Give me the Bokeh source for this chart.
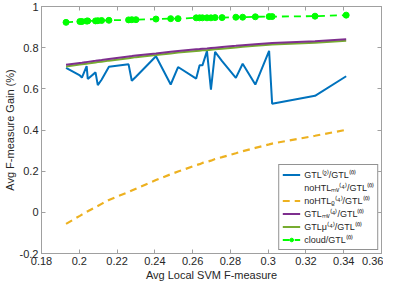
from bokeh.plotting import figure
from bokeh.models import (LinearAxis, Legend, LegendItem, Range1d, FixedTicker,
                          NumeralTickFormatter)
from bokeh.embed import file_html
from bokeh.resources import INLINE

# ---- data ----
x_svm = [0.1930, 0.2003, 0.2014, 0.2039, 0.2045, 0.2086, 0.2098, 0.2118, 0.2157,
         0.2261, 0.2278, 0.2300, 0.2406, 0.2484, 0.2523, 0.2619, 0.2637, 0.2652,
         0.2676, 0.2697, 0.2719, 0.2756, 0.2829, 0.2865, 0.2932, 0.3005, 0.3021,
         0.3248, 0.3413]
gtl2 = [0.702, 0.665, 0.655, 0.710, 0.648, 0.680, 0.618, 0.644, 0.707,
        0.719, 0.639, 0.659, 0.758, 0.621, 0.706, 0.650, 0.714, 0.714,
        0.783, 0.596, 0.780, 0.735, 0.653, 0.722, 0.621, 0.785, 0.528,
        0.566, 0.661]
x_nohtl_mv = []  # series not visible inside the plotted range
nohtl_mv = []
nohtl_rho = [-0.056, -0.017, -0.011, 0.002, 0.005, 0.025, 0.031, 0.041, 0.060,
             0.099, 0.106, 0.115, 0.157, 0.185, 0.198, 0.229, 0.234, 0.240,
             0.245, 0.251, 0.259, 0.268, 0.287, 0.297, 0.313, 0.330, 0.334,
             0.372, 0.401]
gtl4_mv = [0.717, 0.726, 0.727, 0.730, 0.731, 0.736, 0.738, 0.740, 0.745,
           0.757, 0.759, 0.762, 0.772, 0.780, 0.784, 0.792, 0.793, 0.795,
           0.796, 0.798, 0.800, 0.803, 0.809, 0.812, 0.817, 0.822, 0.823,
           0.831, 0.841]
gtl4_mu = [0.709, 0.718, 0.719, 0.722, 0.723, 0.728, 0.730, 0.732, 0.737,
           0.749, 0.751, 0.754, 0.764, 0.772, 0.776, 0.784, 0.785, 0.787,
           0.788, 0.790, 0.792, 0.795, 0.801, 0.804, 0.809, 0.814, 0.815,
           0.824, 0.834]
cloud = [0.923, 0.927, 0.927, 0.929, 0.930, 0.930, 0.931, 0.932, 0.933,
         0.935, 0.936, 0.936, 0.939, 0.941, 0.941, 0.945, 0.945, 0.945,
         0.945, 0.945, 0.946, 0.946, 0.948, 0.948, 0.950, 0.951, 0.951,
         0.953, 0.958]

x_ticks = [0.18, 0.20, 0.22, 0.24, 0.26, 0.28, 0.30, 0.32, 0.34, 0.36]
y_ticks = [-0.2, 0.0, 0.2, 0.4, 0.6, 0.8, 1.0]

labels = ["GTL⁽²⁾/GTL⁽⁰⁾",
          "noHTLₘᵥ⁽⁴⁾/GTL⁽⁰⁾",
          "noHTLᵨ⁽⁴⁾/GTL⁽⁰⁾",
          "GTLₘᵥ⁽⁴⁾/GTL⁽⁰⁾",
          "GTLμ⁽⁴⁾/GTL⁽⁰⁾",
          "cloud/GTL⁽⁰⁾"]

FONT = "Liberation Sans"
AX = "#a0a0a0"
TXT = "#262626"

p = figure(width=383, height=283, output_backend="svg", toolbar_location=None,
           x_range=Range1d(0.18, 0.36), y_range=Range1d(-0.2, 1.0),
           min_border_left=0, min_border_right=2, min_border_top=6,
           min_border_bottom=0)
p.xgrid.visible = False
p.ygrid.visible = False
p.outline_line_color = AX
p.background_fill_color = "white"
p.border_fill_color = "white"

p.xaxis.axis_label = "Avg Local SVM F-measure"
p.yaxis.axis_label = "Avg F-measure Gain (%)"
p.xaxis.ticker = FixedTicker(ticks=x_ticks)
p.yaxis.ticker = FixedTicker(ticks=y_ticks)
p.xaxis.formatter = NumeralTickFormatter(format="0.[00]")
p.yaxis.formatter = NumeralTickFormatter(format="0.[0]")

for ax in [p.xaxis[0], p.yaxis[0]]:
    ax.axis_line_color = AX
    ax.major_tick_line_color = AX
    ax.major_tick_in = 4
    ax.major_tick_out = 0
    ax.minor_tick_line_color = None
    ax.major_label_text_font = FONT
    ax.major_label_text_font_size = "11px"
    ax.major_label_text_color = TXT
    ax.axis_label_text_font = FONT
    ax.axis_label_text_font_size = "11px"
    ax.axis_label_text_font_style = "normal"
    ax.axis_label_text_color = TXT
    ax.axis_label_standoff = 1
    ax.major_label_standoff = 3

right = LinearAxis(ticker=FixedTicker(ticks=y_ticks))
top = LinearAxis(ticker=FixedTicker(ticks=x_ticks))
for ax in [right, top]:
    ax.axis_line_color = AX
    ax.major_tick_line_color = AX
    ax.major_tick_in = 4
    ax.major_tick_out = 0
    ax.minor_tick_line_color = None
    ax.major_label_text_font_size = "1px"
    ax.major_label_text_color = None
    ax.major_label_text_alpha = 0
    ax.major_label_standoff = 0
p.add_layout(right, "right")
p.add_layout(top, "above")

r1 = p.line(x_svm, gtl2, line_color="#0072BD", line_width=2)
r2 = p.line(x_nohtl_mv, nohtl_mv, line_color="#D95319", line_width=2, line_dash="6 4")
r3 = p.line(x_svm, nohtl_rho, line_color="#EDB120", line_width=2.2, line_dash="7 5")
r5 = p.line(x_svm, gtl4_mu, line_color="#77AC30", line_width=2)
r4 = p.line(x_svm, gtl4_mv, line_color="#7E2F8E", line_width=2)
r6 = p.line(x_svm, cloud, line_color="#00FF00", line_width=1.8, line_dash="7 5")
r6b = p.scatter(x_svm, cloud, size=6, marker="circle", fill_color="#00FF00",
                line_color="#00FF00")

legend = Legend(items=[
    LegendItem(label=labels[0], renderers=[r1]),
    LegendItem(label=labels[1], renderers=[r2]),
    LegendItem(label=labels[2], renderers=[r3]),
    LegendItem(label=labels[3], renderers=[r4]),
    LegendItem(label=labels[4], renderers=[r5]),
    LegendItem(label=labels[5], renderers=[r6, r6b]),
], location="bottom_right")
legend.border_line_color = TXT
legend.border_line_width = 1
legend.background_fill_color = "white"
legend.background_fill_alpha = 1
legend.label_text_font = FONT
legend.label_text_font_size = "9px"
legend.label_text_color = TXT
legend.label_height = 9
legend.glyph_height = 9
legend.glyph_width = 18
legend.spacing = 0
legend.padding = 3
legend.margin = 3
legend.label_standoff = 4
p.add_layout(legend)

open("out.html", "w").write(file_html(p, INLINE))
